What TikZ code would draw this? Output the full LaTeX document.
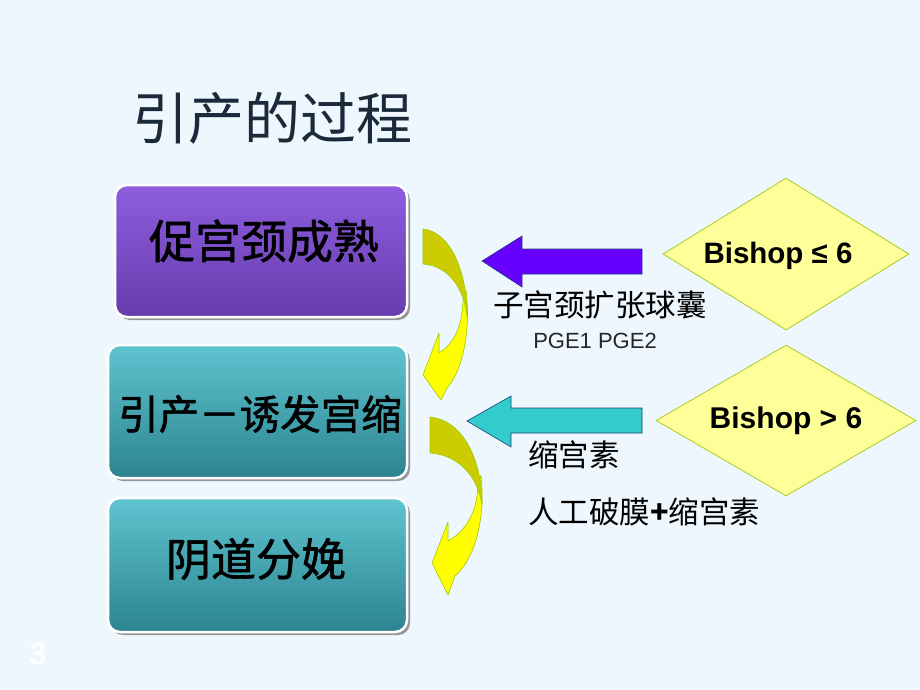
\documentclass[tikz,border=0pt]{standalone}
\usepackage{fontspec}
\setmainfont{Liberation Sans}
\newfontfamily\cjk{Noto Sans CJK SC}
\usetikzlibrary{shapes.geometric,shadows}
\definecolor{bg}{HTML}{EFF7FE}
\definecolor{titlecol}{HTML}{1B2A3A}
\definecolor{purpletop}{HTML}{8E5DE0}
\definecolor{purplebot}{HTML}{663CAB}
\definecolor{tealtop}{HTML}{5EC4CF}
\definecolor{tealbot}{HTML}{2C8490}
\definecolor{olive}{HTML}{CCCC00}
\definecolor{brightyellow}{HTML}{FFFF00}
\definecolor{arrowline}{HTML}{99CC00}
\definecolor{diafill}{HTML}{FFFF99}
\definecolor{diadraw}{HTML}{A8CC22}
\definecolor{violetarrow}{HTML}{6600FF}
\definecolor{tealarrow}{HTML}{33CCCC}
\definecolor{arrowedge}{HTML}{1F3F7A}
\newcommand{\outlined}[1]{\special{pdf:literal direct 2 Tr 0.6 w 0 G 1 j}#1\special{pdf:literal direct 0 Tr}}
\begin{document}
\begin{tikzpicture}[x=1pt,y=-1pt,
  stagebox/.style={rounded corners=12pt, draw=white, line width=2.5pt, inner sep=0pt,
    drop shadow={shadow xshift=3pt, shadow yshift=-3pt, fill=black!45, opacity=0.9}},
  stagetext/.style={font=\cjk, text=black, inner sep=0pt},
  bendback/.style={fill=olive, draw=arrowline, line width=0.6pt, line join=round},
  bendfront/.style={fill=brightyellow, draw=arrowline, line width=0.6pt, line join=round},
  scorebox/.style={diamond, draw=diadraw, fill=diafill, line width=0.8pt, inner sep=0pt},
  scoretext/.style={font=\bfseries, inner sep=0pt},
  blockarrow/.style={draw=arrowedge, line width=0.6pt, line join=miter},
  label/.style={font=\cjk\fontsize{30.5}{34}\selectfont, inner sep=0pt, anchor=west}
]
\fill[bg] (0,0) rectangle (920,690);
\useasboundingbox (0,0) rectangle (920,690);

% title
\node[font=\cjk\fontsize{56}{60}\selectfont, text=titlecol, inner sep=0pt] (title) at (272,118) {引产的过程};

% stage boxes
\node[stagebox, top color=purpletop, bottom color=purplebot, minimum width=292pt, minimum height=132pt] (b1) at (261,251) {};
\node[stagebox, top color=tealtop, bottom color=tealbot, minimum width=299pt, minimum height=133pt] (b2) at (257.5,411.5) {};
\node[stagebox, top color=tealtop, bottom color=tealbot, minimum width=299pt, minimum height=134pt] (b3) at (257.5,565) {};

\node[stagetext, font=\cjk\fontsize{46}{50}\selectfont] (t1) at (264,241) {\outlined{促宫颈成熟}};
\node[stagetext, font=\cjk\fontsize{40.5}{44}\selectfont] (t2) at (260,414) {\outlined{引产－诱发宫缩}};
\node[stagetext, font=\cjk\fontsize{45}{50}\selectfont] (t3) at (256,559) {\outlined{阴道分娩}};

% curved arrow 1
\path[bendfront] (466,290) .. controls (471,330) and (463,370) .. (447,388)
  -- (441,400) -- (423,375) -- (439,333) -- (439,353)
  .. controls (452,345) and (462,330) .. (463,300) -- cycle;
\path[bendback] (423,229) .. controls (450,232) and (467,270) .. (467,316)
  .. controls (464,290) and (450,266) .. (423,264) -- cycle;

% curved arrow 2
\path[bendfront] (481,475) .. controls (486,520) and (474,560) .. (455,576)
  -- (448,595) -- (432,563) -- (448,522) -- (448,541)
  .. controls (464,532) and (477,515) .. (478,485) -- cycle;
\path[bendback] (430,417) .. controls (462,420) and (482,458) .. (482,505)
  .. controls (478,478) and (460,455) .. (430,453) -- cycle;

% diamonds
\node[scorebox, minimum width=246pt, minimum height=152pt] (d1) at (786,254) {};
\node[scorebox, minimum width=260pt, minimum height=151pt] (d2) at (786,420.5) {};
\node[scoretext, font=\bfseries\fontsize{29.5}{32}\selectfont] (d1t) at (778,255.5) {Bishop ≤ 6};
\node[scoretext, font=\bfseries\fontsize{30}{32}\selectfont] (d2t) at (786,420.5) {Bishop > 6};

% block arrows
\coordinate (a1tip) at (482,261);
\coordinate (a2tip) at (467,421);
\path[blockarrow, fill=violetarrow] (a1tip) -- (522,236) -- (522,249) -- (642,249) -- (642,274) -- (522,274) -- (522,287) -- cycle;
\path[blockarrow, fill=tealarrow] (a2tip) -- (511,396) -- (511,408) -- (642,408) -- (642,433) -- (511,433) -- (511,447) -- cycle;

% labels
\node[label] (l1) at (493,305) {子宫颈扩张球囊};
\node[font=\fontsize{22}{24}\selectfont, text=black!85, inner sep=0pt] (l2) at (595,341) {PGE1 PGE2};
\node[label] (l3) at (528,455) {缩宫素};
\node[label] (l4) at (528,512) {人工破膜\textbf{+}缩宫素};

% page number
\node[font=\bfseries\fontsize{31}{34}\selectfont, text=white, inner sep=0pt] (pg) at (38,654) {3};
\end{tikzpicture}
\end{document}
